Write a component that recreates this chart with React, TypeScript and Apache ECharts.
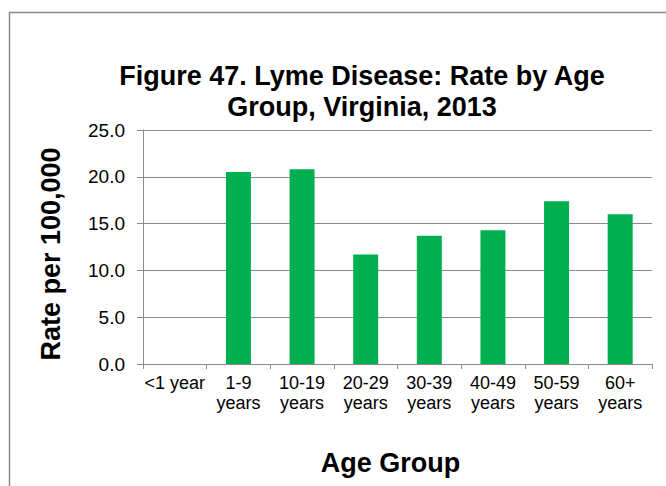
import React, { useEffect, useRef } from "react";
import * as echarts from "echarts";

const categories = ["<1 year", "1-9\nyears", "10-19\nyears", "20-29\nyears", "30-39\nyears", "40-49\nyears", "50-59\nyears", "60+\nyears"];
const rates = [0, 20.5, 20.8, 11.7, 13.7, 14.3, 17.4, 16.0];
const yTicks = { min: 0, max: 25, interval: 5 };
const titleText = "Figure 47. Lyme Disease: Rate by Age\nGroup, Virginia, 2013";
const xTitle = "Age Group";
const yTitle = "Rate per 100,000";

const FONT = "'Liberation Sans', Arial, sans-serif";

export default function App() {
  const ref = useRef<HTMLDivElement>(null);
  useEffect(() => {
    if (!ref.current) return;
    const chart = echarts.init(ref.current, null, { renderer: "svg" });
    chart.setOption({
      animation: false,
      backgroundColor: "#ffffff",
      title: {
        text: titleText,
        left: 362,
        top: 60,
        padding: 0,
        textAlign: "center",
        textStyle: { fontFamily: FONT, fontSize: 27, fontWeight: "bold", color: "#000", lineHeight: 31 },
      },
      graphic: [
        {
          type: "rect",
          shape: { x: 9.5, y: 12.5, width: 700, height: 520 },
          style: { fill: "none", stroke: "#8a8a8a", lineWidth: 1.5 },
          silent: true,
        },
      ],
      grid: { left: 143, top: 130, right: 14, bottom: 122, containLabel: false },
      xAxis: {
        type: "category",
        data: categories,
        name: xTitle,
        nameLocation: "middle",
        nameGap: 85,
        nameTextStyle: { fontFamily: FONT, fontSize: 27, fontWeight: "bold", color: "#000", padding: [0, 14, 0, 0] },
        axisLine: { show: true, lineStyle: { color: "#8a8a8a", width: 1 } },
        axisTick: { show: true, length: 5, lineStyle: { color: "#8a8a8a" } },
        axisLabel: { fontFamily: FONT, fontSize: 18, color: "#000", lineHeight: 20, margin: 9, interval: 0 },
        splitLine: { show: false },
      },
      yAxis: {
        type: "value",
        min: yTicks.min,
        max: yTicks.max,
        interval: yTicks.interval,
        name: yTitle,
        nameLocation: "middle",
        nameGap: 79,
        nameTextStyle: { fontFamily: FONT, fontSize: 27, fontWeight: "bold", color: "#000", padding: [0, 14, 0, 0] },
        axisLine: { show: true, lineStyle: { color: "#8a8a8a", width: 1 } },
        axisTick: { show: true, length: 6, lineStyle: { color: "#8a8a8a" } },
        axisLabel: { fontFamily: FONT, fontSize: 19, color: "#000", margin: 18, formatter: (v: number) => v.toFixed(1) },
        splitLine: { show: true, lineStyle: { color: "#8a8a8a", width: 1 } },
      },
      series: [
        {
          type: "bar",
          data: rates,
          barWidth: 25,
          itemStyle: { color: "#00B050" },
        },
      ],
    });
    return () => chart.dispose();
  }, []);
  return <div ref={ref} style={{ position: "fixed", left: 0, top: 0, width: 666, height: 486 }} />;
}
